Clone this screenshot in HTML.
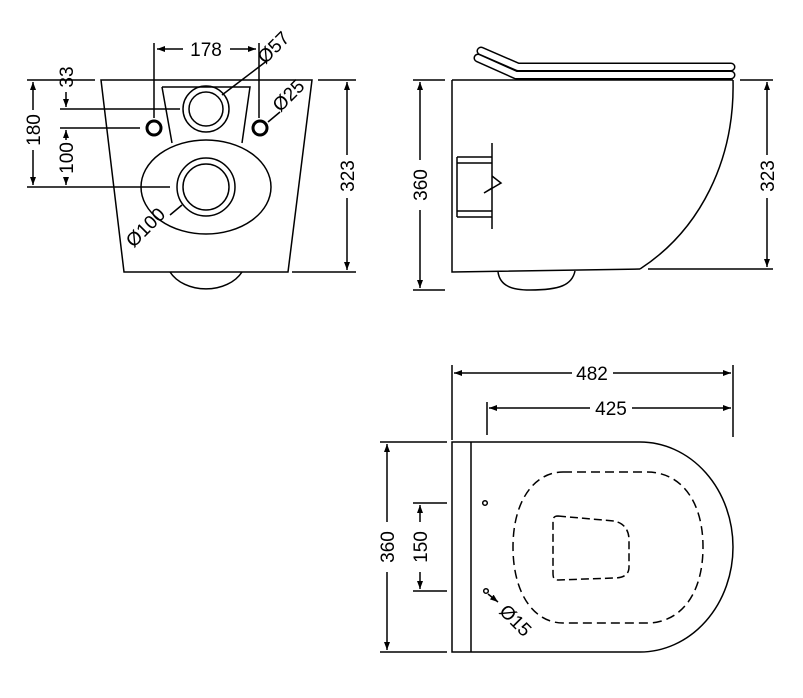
<!DOCTYPE html>
<html><head><meta charset="utf-8"><style>
html,body{margin:0;padding:0;background:#fff;}
svg{display:block;}
text{font-family:"Liberation Sans",sans-serif;font-size:19px;fill:#000;}
</style></head><body>
<svg width="803" height="698" viewBox="0 0 803 698" xmlns="http://www.w3.org/2000/svg">
<defs>
<marker id="a" markerWidth="8" markerHeight="6" refX="8" refY="3" orient="auto-start-reverse" markerUnits="userSpaceOnUse"><path d="M0,0 L8,3 L0,6 z" fill="#000"/></marker>
</defs>
<g fill="none" stroke="#000" stroke-width="1.5">
<!-- FRONT VIEW -->
<path d="M101,80 L312,80 L288,272 L124,272 Z"/>
<path d="M162,87 L250,87 L242,143 M162,87 L172,143"/>
<ellipse cx="206" cy="187" rx="65" ry="47" fill="#fff"/>
<circle cx="206" cy="109" r="23"/><circle cx="206" cy="109" r="17"/>
<circle cx="206" cy="187" r="29"/><circle cx="206" cy="187" r="23"/>
<circle cx="154" cy="128" r="7" stroke-width="3"/>
<circle cx="260" cy="128" r="7" stroke-width="3"/>
<path d="M170,272 A40,30 0 0 0 242,272"/>
<!-- front dims -->
<path d="M154,43 L154,118 M259,43 L259,118"/>
<path d="M183,49 L157,49" marker-end="url(#a)"/><path d="M230,49 L256,49" marker-end="url(#a)"/>
<path d="M222,95 L268,60"/>
<path d="M268,122 L280,112"/>
<path d="M182,205 L170,215"/>
<path d="M27,80 L95,80 M27,187 L170,187 M60,109 L180,109 M60,128 L140,128"/>
<path d="M33,110 L33,82" marker-end="url(#a)"/><path d="M33,150 L33,185" marker-end="url(#a)"/>
<path d="M66,92 L66,107" marker-end="url(#a)"/>
<path d="M66,140 L66,130" marker-end="url(#a)"/><path d="M66,177 L66,185" marker-end="url(#a)"/>
<path d="M318,80 L356,80 M292,272 L356,272"/>
<path d="M347,155 L347,82" marker-end="url(#a)"/><path d="M347,198 L347,270" marker-end="url(#a)"/>
<!-- SIDE VIEW -->
<path d="M452,80 L452,272 L640,269"/>
<path d="M452,80 L733,80"/>
<path d="M733,80 C735,160 700,230 640,269"/>
<path d="M498,272 C500,286 512,290 530,290 C560,290 572,285 575,271"/>
<path d="M478,58 L516,75 L731,75" stroke-width="9" stroke-linecap="round" stroke-linejoin="round"/>
<path d="M478,58 L516,75 L731,75" stroke="#fff" stroke-width="6" stroke-linecap="round" stroke-linejoin="round"/>
<path d="M481,51 L518,67 L731,67" stroke-width="9" stroke-linecap="round" stroke-linejoin="round"/>
<path d="M481,51 L518,67 L731,67" stroke="#fff" stroke-width="6" stroke-linecap="round" stroke-linejoin="round"/>
<path d="M457,157 L492,157 M457,163 L492,163 M457,211 L492,211 M457,217 L492,217 M457,157 L457,217 M492,143 L492,229"/>
<path d="M492,176 L501,183 L484,193 L492,188"/>
<path d="M413,80 L445,80 M413,290 L445,290"/>
<path d="M420,160 L420,82" marker-end="url(#a)"/><path d="M420,210 L420,288" marker-end="url(#a)"/>
<path d="M740,80 L773,80 M648,269 L773,269"/>
<path d="M767,155 L767,82" marker-end="url(#a)"/><path d="M767,198 L767,267" marker-end="url(#a)"/>
<!-- TOP VIEW -->
<path d="M452,442 L452,652 L640,652 A93,105 0 0 0 640,442 Z"/>
<path d="M471,442 L471,652"/>
<path d="M563,472 L647,472 C680,472 703,500 703,547 C703,595 680,623 647,623 L563,623 C535,623 513,595 513,547 C513,500 535,472 563,472 Z" stroke-dasharray="9,5"/>
<path d="M558,516 L614,521 C624,523 629,530 629,540 L629,567 C629,575 623,578 614,578 L558,580 C554,580 553,578 553,573 L553,521 C553,517 555,516 558,516 Z" stroke-dasharray="8,4"/>
<circle cx="485" cy="503" r="2.3"/><circle cx="486" cy="591" r="2.3"/>
<path d="M488,594 L498,602" marker-end="url(#a)"/>
<path d="M452,365 L452,440 M487,402 L487,435 M733,365 L733,437"/>
<path d="M572,373 L454,373" marker-end="url(#a)"/><path d="M613,373 L731,373" marker-end="url(#a)"/>
<path d="M590,408 L489,408" marker-end="url(#a)"/><path d="M632,408 L731,408" marker-end="url(#a)"/>
<path d="M380,442 L447,442 M380,652 L447,652"/>
<path d="M387,522 L387,444" marker-end="url(#a)"/><path d="M387,572 L387,650" marker-end="url(#a)"/>
<path d="M413,503 L447,503 M413,591 L447,591"/>
<path d="M420,522 L420,505" marker-end="url(#a)"/><path d="M420,572 L420,589" marker-end="url(#a)"/>
</g>
<!-- labels -->
<text x="206" y="56" text-anchor="middle">178</text>
<text transform="translate(278,52) rotate(-45)" text-anchor="middle">Ø57</text>
<text transform="translate(293,100) rotate(-45)" text-anchor="middle">Ø25</text>
<text transform="translate(150,232) rotate(-45)" text-anchor="middle">Ø100</text>
<text transform="translate(40,130) rotate(-90)" text-anchor="middle">180</text>
<text transform="translate(73,77) rotate(-90)" text-anchor="middle">33</text>
<text transform="translate(73,158) rotate(-90)" text-anchor="middle">100</text>
<text transform="translate(354,176) rotate(-90)" text-anchor="middle">323</text>
<text transform="translate(427,185) rotate(-90)" text-anchor="middle">360</text>
<text transform="translate(774,176) rotate(-90)" text-anchor="middle">323</text>
<text x="592" y="380" text-anchor="middle">482</text>
<text x="611" y="415" text-anchor="middle">425</text>
<text transform="translate(394,547) rotate(-90)" text-anchor="middle">360</text>
<text transform="translate(427,547) rotate(-90)" text-anchor="middle">150</text>
<text transform="translate(511,625) rotate(45)" text-anchor="middle">Ø15</text>
</svg>
</body></html>
